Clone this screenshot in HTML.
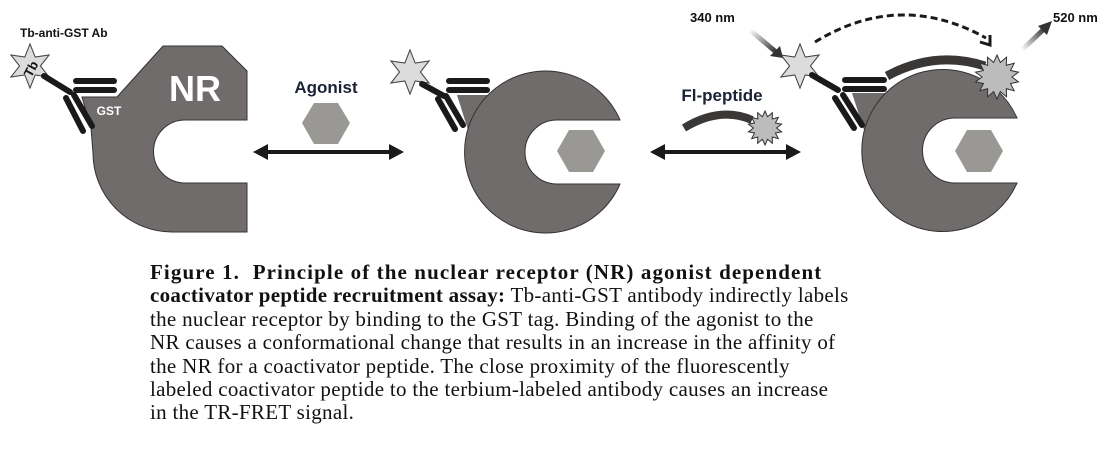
<!DOCTYPE html>
<html><head><meta charset="utf-8"><style>
body{margin:0;background:#fff;width:1116px;height:453px;overflow:hidden;position:relative}
svg{position:absolute;left:0;top:0}
.cap{position:absolute;left:150px;top:261px;font-family:"Liberation Serif",serif;font-size:21px;line-height:23.4px;color:#111;white-space:nowrap;letter-spacing:0.3px}
.cap b.w{letter-spacing:1.1px}
</style></head><body>
<svg width="1116" height="453" viewBox="0 0 1116 453">
<defs>
<polygon id="st6" points="0,-17 4,-6.9 14.7,-8.5 8,0 14.7,8.5 4,6.9 0,17 -4,6.9 -14.7,8.5 -8,0 -14.7,-8.5 -4,-6.9" fill="#dcdcdc" stroke="#444" stroke-width="0.8"/>
<polygon id="burst" points="0,-1 .151,-.663 .434,-.901 .424,-.532 .782,-.623 .613,-.295 .975,-.223 .68,0 .975,.223 .613,.295 .782,.623 .424,.532 .434,.901 .151,.663 0,1 -.151,.663 -.434,.901 -.424,.532 -.782,.623 -.613,.295 -.975,.223 -.68,0 -.975,-.223 -.613,-.295 -.782,-.623 -.424,-.532 -.434,-.901 -.151,-.663" fill="#bdbcbc" stroke="#333" stroke-width="1" vector-effect="non-scaling-stroke"/>
<linearGradient id="g1" x1="0" y1="0" x2="1" y2="1"><stop offset="0" stop-color="#fff"/><stop offset="1" stop-color="#333"/></linearGradient>
<linearGradient id="g2" x1="0" y1="1" x2="1" y2="0"><stop offset="0" stop-color="#fff"/><stop offset="1" stop-color="#333"/></linearGradient>
</defs>
<g font-family="Liberation Sans, sans-serif" font-weight="bold">
<text x="20" y="37" font-size="12" fill="#111">Tb-anti-GST Ab</text>
<path d="M163,46 L222,46 L247,71 L247,120 L185,120 A31.5,31.5 0 0 0 185,183 L247,183 L247,232 L172,232 A79,79 0 0 1 93,153 L91,128 L82,97 L117,97 Z" fill="#706c6c" stroke="#333" stroke-width="1"/>
<text x="195" y="101" font-size="36" fill="#fff" text-anchor="middle">NR</text>
<text x="109" y="115" font-size="12" fill="#fff" text-anchor="middle">GST</text>
<use href="#st6" transform="translate(30,66) scale(1.3)"/>
<text x="0" y="0" font-size="13" fill="#111" text-anchor="middle" transform="translate(35,71) rotate(-62)">Tb</text>
<g stroke="#1a1a1a" stroke-width="6" stroke-linecap="round">
<line x1="44" y1="76" x2="70" y2="92"/><line x1="76" y1="81" x2="114" y2="81"/><line x1="76" y1="90" x2="114" y2="90"/>
<line x1="66" y1="98" x2="83" y2="131"/><line x1="74" y1="95" x2="92" y2="126"/>
</g>
<text x="326" y="93" font-size="17" fill="#1b2236" text-anchor="middle">Agonist</text>
<polygon points="302,123 314,103 338,103 350,123 338,144 314,144" fill="#999894"/>
<g fill="#1a1a1a"><rect x="264" y="150" width="128" height="4"/>
<polygon points="253,152 268,144 268,160"/><polygon points="404,152 389,144 389,160"/>
<rect x="661" y="150" width="128" height="4"/>
<polygon points="650,152 665,144 665,160"/><polygon points="801,152 786,144 786,160"/></g>
<polygon points="457,95 492,95 485,115 468,130" fill="#706c6c"/>
<path d="M620,120 L557,120 A32,32 0 0 0 557,184 L620,184 A81,81 0 1 1 620,120 Z" fill="#706c6c" stroke="#333" stroke-width="1"/>
<polygon points="557,151 569,130 593,130 605,151 593,172 569,172" fill="#999894"/>
<use href="#st6" transform="translate(410,72) scale(1.3)"/>
<g stroke="#1a1a1a" stroke-width="6" stroke-linecap="round">
<line x1="422" y1="84" x2="444" y2="96"/><line x1="449" y1="81" x2="487" y2="81"/><line x1="449" y1="90" x2="487" y2="90"/>
<line x1="438" y1="99" x2="455" y2="129"/><line x1="446" y1="96" x2="463" y2="125"/>
</g>
<text x="722" y="101" font-size="17" fill="#1b2236" text-anchor="middle">Fl-peptide</text>
<path d="M684,128 Q720,106 752,120" fill="none" stroke="#3a3737" stroke-width="8"/>
<use href="#burst" transform="translate(765,128) scale(17)"/>
<polygon points="852,93 890,93 882,112 864,130" fill="#706c6c"/>
<path d="M1017,118 L955,118 A32.5,32.5 0 0 0 955,183 L1017,183 A81,81 0 1 1 1017,118 Z" fill="#706c6c" stroke="#333" stroke-width="1"/>
<polygon points="955,151 967,130 991,130 1003,151 991,172 967,172" fill="#999894"/>
<path d="M887,76 Q935,50 985,66" fill="none" stroke="#fff" stroke-width="14"/>
<path d="M887,76 Q935,50 985,66" fill="none" stroke="#3a3737" stroke-width="9"/>
<use href="#burst" transform="translate(997,77) scale(22)"/>
<use href="#st6" transform="translate(800,66) scale(1.3)"/>
<g stroke="#1a1a1a" stroke-width="6" stroke-linecap="round">
<line x1="812" y1="75" x2="838" y2="90"/><line x1="845" y1="80" x2="884" y2="80"/><line x1="845" y1="89" x2="884" y2="89"/>
<line x1="835" y1="98" x2="854" y2="128"/><line x1="843" y1="95" x2="862" y2="125"/>
</g>
<path d="M815,42 Q900,-10 986,38" fill="none" stroke="#1a1a1a" stroke-width="3" stroke-dasharray="7,4"/>
<polyline points="980,42 990,45 990,35" fill="none" stroke="#1a1a1a" stroke-width="3"/>
<text x="690" y="22" font-size="13" fill="#111">340 nm</text>
<line x1="750" y1="30" x2="776" y2="52" stroke="url(#g1)" stroke-width="5"/>
<polygon points="783,58 770,56 780,46" fill="#333"/>
<text x="1053" y="22" font-size="13" fill="#111">520 nm</text>
<line x1="1022" y1="50" x2="1045" y2="28" stroke="url(#g2)" stroke-width="5"/>
<polygon points="1052,21 1038,26 1047,35" fill="#333"/>
</g>
</svg>
<div class="cap"><b class="w">Figure 1.&nbsp; Principle of the nuclear receptor (NR) agonist dependent</b><br><b>coactivator peptide recruitment assay:</b> Tb-anti-GST antibody indirectly labels<br>the nuclear receptor by binding to the GST tag. Binding of the agonist to the<br>NR causes a conformational change that results in an increase in the affinity of<br>the NR for a coactivator peptide. The close proximity of the fluorescently<br>labeled coactivator peptide to the terbium-labeled antibody causes an increase<br>in the TR-FRET signal.</div>
</body></html>
